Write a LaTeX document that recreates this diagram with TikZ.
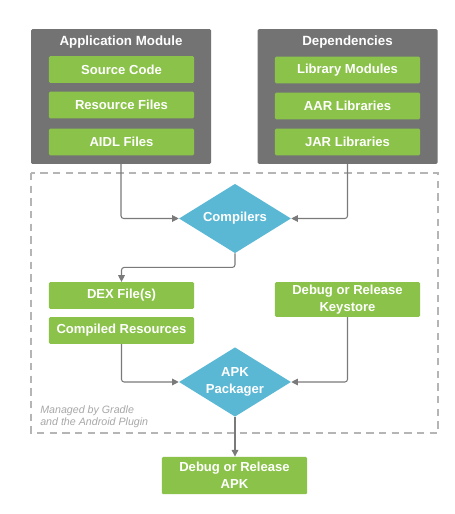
\documentclass[tikz,border=0pt]{standalone}
\usepackage{fontspec}
\setmainfont{Liberation Sans}
\usepackage{tikz}
\usetikzlibrary{shapes.geometric,arrows.meta}
\usepackage{xcolor}
\definecolor{ModuleGray}{HTML}{737373}
\definecolor{FileGreen}{HTML}{8BC34A}
\definecolor{ToolBlue}{HTML}{5BB8D5}
\definecolor{LineGray}{HTML}{7A7A7A}
\definecolor{BorderGray}{HTML}{B5B5B5}
\definecolor{NoteGray}{HTML}{A8A8A8}

\tikzset{
  module/.style={fill=ModuleGray,rounded corners=1pt,minimum width=135pt,minimum height=101pt},
  filebox/.style={fill=FileGreen,rounded corners=1pt,text=white,font=\bfseries\fontsize{9.8}{12.8}\selectfont,
    minimum width=109pt,minimum height=20pt,inner sep=0pt,align=center},
  tool/.style={diamond,aspect=1.62,fill=ToolBlue,text=white,font=\bfseries\fontsize{9.8}{13.2}\selectfont,
    minimum width=84pt,minimum height=52pt,inner sep=0pt,align=center},
  flow/.style={draw=LineGray,line width=0.8pt,rounded corners=2pt,-{Triangle[length=5pt,width=5pt]}}
}

\begin{document}
\begin{tikzpicture}[x=0.75pt,y=-0.75pt]
    \useasboundingbox[fill=white] (0,0) rectangle (454,514);

    % build area
    \draw[BorderGray,line width=0.9pt,dash pattern=on 5.5pt off 4pt] (31,173) rectangle (438,433);
    \node[NoteGray,font=\itshape\fontsize{8}{9.3}\selectfont,anchor=north west,align=left,inner sep=0pt]
      (note) at (40,405.5) {Managed by Gradle\\and the Android Plugin};

    % inputs
    \node[module] (app) at (121,96.5) {};
    \node[module] (dep) at (347.5,96.5) {};
    \node[text=white,font=\bfseries\fontsize{10}{12}\selectfont] (apptitle) at (121,42) {Application Module};
    \node[text=white,font=\bfseries\fontsize{10}{12}\selectfont] (deptitle) at (347.5,42) {Dependencies};
    \foreach \y/\name/\txt in {69.5/src/Source Code,105/res/Resource Files,142/aidl/AIDL Files} {
     \node[filebox] (\name) at (121.5,\y) {\txt};
    }
    \foreach \y/\name/\txt in {70/lib/Library Modules,106/aar/AAR Libraries,142/jar/JAR Libraries} {
     \node[filebox] (\name) at (347.5,\y) {\txt};
    }

    % compile step
    \node[tool] (cmp) at (235,218.5) {Compilers};
    \draw[flow] (app.south) |- (cmp.west);
    \draw[flow] (dep.south) |- (cmp.east);

    \node[filebox] (dex) at (121.5,295.5) {DEX File(s)};
    \node[filebox] (cres) at (121.5,330.5) {Compiled Resources};
    \node[filebox,minimum height=26pt] (key) at (347.5,299.5) {Debug or Release\\Keystore};
    \draw[flow] (cmp.south) -- ++(0,14) -| (dex.north);

    % packaging step
    \node[tool] (apk) at (235,382) {APK\\Packager};
    \draw[flow] (cres.south) |- (apk.west);
    \draw[flow] (key.south) |- (apk.east);

    \node[filebox,minimum height=28pt] (out) at (234.5,475.5) {Debug or Release\\APK};
    \draw[flow] (apk.south) -- (apk.south |- out.north);
   \end{tikzpicture}
\end{document}
